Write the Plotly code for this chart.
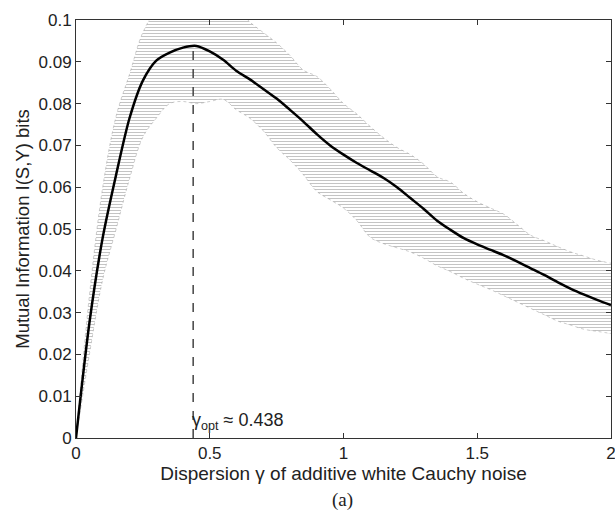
import plotly.graph_objects as go

# Dispersion gamma values
gamma = [0.00, 0.05, 0.10, 0.15, 0.20, 0.25, 0.30, 0.35, 0.40, 0.45,
         0.50, 0.55, 0.60, 0.65, 0.70, 0.75, 0.80, 0.85, 0.90, 0.95,
         1.00, 1.05, 1.10, 1.15, 1.20, 1.25, 1.30, 1.35, 1.40, 1.45,
         1.50, 1.55, 1.60, 1.65, 1.70, 1.75, 1.80, 1.85, 1.90, 1.95, 2.00]

# Mean mutual information (bits)
mi_mean = [0.0000, 0.0275, 0.0480, 0.0630, 0.0765, 0.0855, 0.0903, 0.0922, 0.0934, 0.0938,
           0.0925, 0.0905, 0.0878, 0.0858, 0.0835, 0.0812, 0.0785, 0.0757, 0.0727, 0.0700,
           0.0678, 0.0658, 0.0640, 0.0622, 0.0600, 0.0574, 0.0548, 0.0520, 0.0498, 0.0478,
           0.0463, 0.0450, 0.0437, 0.0422, 0.0406, 0.0390, 0.0373, 0.0357, 0.0343, 0.0330, 0.0318]

# Upper envelope of the individual trials
mi_upper = [0.0000, 0.0340, 0.0600, 0.0770, 0.0870, 0.0970, 0.1020, 0.1030, 0.1030, 0.1030,
            0.1030, 0.1030, 0.1030, 0.0995, 0.0970, 0.0945, 0.0915, 0.0880, 0.0865, 0.0835,
            0.0800, 0.0775, 0.0745, 0.0718, 0.0695, 0.0678, 0.0655, 0.0625, 0.0612, 0.0585,
            0.0565, 0.0550, 0.0535, 0.0510, 0.0485, 0.0472, 0.0458, 0.0445, 0.0435, 0.0425, 0.0418]

# Lower envelope of the individual trials
mi_lower = [0.0000, 0.0200, 0.0380, 0.0500, 0.0620, 0.0720, 0.0765, 0.0800, 0.0805, 0.0800,
            0.0805, 0.0810, 0.0785, 0.0765, 0.0735, 0.0695, 0.0665, 0.0630, 0.0590, 0.0570,
            0.0550, 0.0520, 0.0480, 0.0465, 0.0455, 0.0445, 0.0430, 0.0412, 0.0398, 0.0382,
            0.0368, 0.0355, 0.0340, 0.0325, 0.0310, 0.0295, 0.0280, 0.0270, 0.0260, 0.0255, 0.0250]

gamma_opt = 0.438
mi_peak = 0.0938

x_ticks = [0, 0.5, 1, 1.5, 2]
x_tick_labels = ["0", "0.5", "1", "1.5", "2"]
y_ticks = [0, 0.01, 0.02, 0.03, 0.04, 0.05, 0.06, 0.07, 0.08, 0.09, 0.1]
y_tick_labels = ["0", "0.01", "0.02", "0.03", "0.04", "0.05", "0.06", "0.07", "0.08", "0.09", "0.1"]

FONT = "Liberation Sans, Arial, sans-serif"
TXT = "#222222"

fig = go.Figure()

fig.add_trace(go.Scatter(x=gamma, y=mi_lower, mode="lines",
                         line=dict(color="rgba(150,150,150,0.6)", width=0.8, dash="dot", shape="spline"),
                         showlegend=False, hoverinfo="skip"))
fig.add_trace(go.Scatter(x=gamma, y=mi_upper, mode="lines",
                         line=dict(color="rgba(150,150,150,0.6)", width=0.8, dash="dot", shape="spline"),
                         fill="tonexty", fillcolor="rgba(255,255,255,0)",
                         fillpattern=dict(shape="-", fgcolor="#8a8a8a", bgcolor="white",
                                          size=3, solidity=0.35),
                         showlegend=False, hoverinfo="skip"))

fig.add_trace(go.Scatter(x=[gamma_opt, gamma_opt], y=[0, mi_peak], mode="lines",
                         line=dict(color="#444444", width=1.5, dash="dash"),
                         showlegend=False))

fig.add_trace(go.Scatter(x=gamma, y=mi_mean, mode="lines",
                         line=dict(color="black", width=2.5, shape="spline", smoothing=0.8),
                         showlegend=False))

fig.add_annotation(x=gamma_opt, y=0.0040, xref="x", yref="y",
                   text="γ<sub>opt</sub> ≈ 0.438", showarrow=False,
                   xanchor="left", yanchor="middle", xshift=-3,
                   font=dict(family=FONT, size=18, color=TXT))

fig.add_annotation(x=0.498, y=-0.148, xref="paper", yref="paper",
                   text="(a)", showarrow=False, xanchor="center", yanchor="middle",
                   font=dict(family="Liberation Serif, Times New Roman, serif", size=19, color=TXT))

axis_common = dict(showline=True, linecolor="#333333", linewidth=1, mirror="allticks",
                   ticks="inside", ticklen=5, tickcolor="#333333", showgrid=False,
                   zeroline=False, automargin=False,
                   tickfont=dict(family=FONT, size=17, color=TXT))

fig.update_xaxes(range=[0, 2], tickvals=x_ticks, ticktext=x_tick_labels,
                 ticklabeloverflow="allow",
                 title=dict(text="Dispersion γ of additive white Cauchy noise",
                            font=dict(family=FONT, size=19, color=TXT), standoff=0),
                 **axis_common)
fig.update_yaxes(range=[0, 0.1], tickvals=y_ticks, ticktext=y_tick_labels,
                 title=dict(text="Mutual Information I(S,Y) bits",
                            font=dict(family=FONT, size=18.5, color=TXT), standoff=4),
                 **axis_common)

fig.update_layout(width=615, height=515, plot_bgcolor="white", paper_bgcolor="white",
                  margin=dict(l=76, r=4, t=20, b=77))

fig.write_html("out.html", config={"responsive": False, "displayModeBar": False},
               post_script="document.body.style.margin='0';document.body.style.overflow='hidden';")
